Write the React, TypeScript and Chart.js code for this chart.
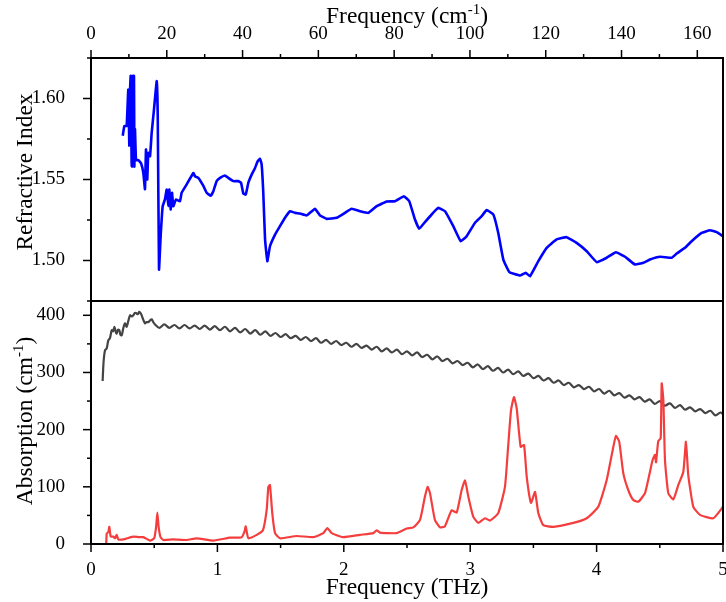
import React, { useEffect, useRef } from "react";
import { Chart, registerables } from "chart.js";

Chart.register(...registerables);

const FONT = "'Liberation Serif', 'Times New Roman', serif";

// axis ranges & ticks
const THZ_TO_CM = 33.356;
const xRange = [0, 5];
const cmRange = [0, 5 * THZ_TO_CM];
const nRange = [1.475, 1.625];
const absRange = [0, 425];

const xTicksTHz = [0, 1, 2, 3, 4, 5];
const xMinorTHz = [0.5, 1.5, 2.5, 3.5, 4.5];
const cmTicks = [0, 20, 40, 60, 80, 100, 120, 140, 160];
const cmMinor = [10, 30, 50, 70, 90, 110, 130, 150];
const nTicks = [1.5, 1.55, 1.6];
const nMinor = [1.475, 1.525, 1.575, 1.625];
const absTicks = [0, 100, 200, 300, 400];
const absMinor = [50, 150, 250, 350];

const titleTop = ["Frequency (cm", "-1", ")"];
const titleBottom = "Frequency (THz)";
const titleN = "Refractive Index";
const titleAbs = ["Absorption (cm", "-1", ")"];

// refractive index [THz, n]
const refractiveIndex = [
  [0.251, 1.577], [0.264, 1.583], [0.282, 1.583], [0.295, 1.6055], [0.303, 1.571], [0.309, 1.605],
  [0.314, 1.614], [0.322, 1.558], [0.33, 1.614], [0.34, 1.614], [0.343, 1.558], [0.348, 1.581],
  [0.356, 1.562], [0.374, 1.562], [0.396, 1.56], [0.414, 1.554], [0.427, 1.544], [0.435, 1.5685],
  [0.445, 1.55], [0.453, 1.5665], [0.467, 1.5644], [0.48, 1.5788], [0.498, 1.593], [0.52, 1.6107],
  [0.528, 1.589], [0.538, 1.4944], [0.551, 1.515], [0.567, 1.5335], [0.585, 1.5377], [0.599, 1.5438],
  [0.612, 1.5335], [0.62, 1.5438], [0.63, 1.5315], [0.641, 1.5418], [0.651, 1.5335], [0.672, 1.5377],
  [0.704, 1.5366], [0.717, 1.5418], [0.757, 1.547], [0.81, 1.554], [0.823, 1.552], [0.849, 1.551],
  [0.889, 1.546], [0.915, 1.5418], [0.947, 1.54], [0.968, 1.5428], [0.994, 1.549], [1.021, 1.551],
  [1.06, 1.5525], [1.086, 1.551], [1.126, 1.549], [1.165, 1.549], [1.187, 1.548], [1.205, 1.5414],
  [1.224, 1.5407], [1.245, 1.548], [1.271, 1.553], [1.297, 1.557], [1.319, 1.5613], [1.337, 1.5628],
  [1.35, 1.5593], [1.363, 1.5418], [1.377, 1.513], [1.395, 1.4996], [1.416, 1.5088], [1.456, 1.516],
  [1.495, 1.5212], [1.535, 1.5264], [1.574, 1.5304], [1.614, 1.5294], [1.653, 1.529], [1.706, 1.5278],
  [1.772, 1.5319], [1.81, 1.528], [1.865, 1.5257], [1.944, 1.5264], [2.009, 1.5294], [2.062, 1.5319],
  [2.128, 1.5304], [2.194, 1.5294], [2.26, 1.5335], [2.339, 1.5364], [2.405, 1.5366], [2.476, 1.5397],
  [2.518, 1.5366], [2.563, 1.5253], [2.597, 1.5196], [2.642, 1.5237], [2.695, 1.5284], [2.748, 1.5325],
  [2.801, 1.5304], [2.866, 1.5212], [2.925, 1.5119], [2.972, 1.515], [3.038, 1.5233], [3.091, 1.5274],
  [3.13, 1.5311], [3.183, 1.5284], [3.222, 1.517], [3.262, 1.5006], [3.31, 1.4928], [3.394, 1.4907],
  [3.439, 1.4924], [3.473, 1.4903], [3.539, 1.4996], [3.605, 1.5078], [3.684, 1.513], [3.763, 1.5144],
  [3.842, 1.5109], [3.922, 1.5057], [4.001, 1.499], [4.08, 1.5017], [4.153, 1.5051], [4.225, 1.5023],
  [4.304, 1.4975], [4.37, 1.4986], [4.422, 1.5006], [4.502, 1.5023], [4.594, 1.5017], [4.634, 1.5043],
  [4.699, 1.5078], [4.752, 1.5119], [4.831, 1.517], [4.897, 1.5187], [4.95, 1.5175], [5.0, 1.515],
];

// absorption of the reference/total (grey) [THz, cm^-1]
const absorptionTotal = [
  [0.092, 285], [0.1, 320], [0.111, 339], [0.124, 342], [0.137, 356], [0.15, 360], [0.164, 374],
  [0.175, 372], [0.185, 380], [0.195, 372], [0.203, 368], [0.214, 375], [0.224, 374], [0.233, 366],
  [0.243, 365], [0.256, 378], [0.269, 386], [0.282, 380], [0.295, 390], [0.309, 400], [0.322, 398],
  [0.335, 400], [0.346, 404], [0.356, 404], [0.37, 402], [0.382, 406], [0.392, 404], [0.401, 400],
  [0.414, 392], [0.427, 386], [0.44, 388], [0.453, 388], [0.467, 391], [0.48, 393], [0.493, 388],
  [0.506, 384], [0.54, 378], [0.58, 384], [0.62, 378], [0.66, 383], [0.7, 377], [0.74, 383],
  [0.78, 377], [0.82, 382], [0.86, 376], [0.9, 382], [0.94, 375], [0.98, 381], [1.02, 374],
  [1.06, 380], [1.1, 372], [1.14, 378], [1.18, 370], [1.22, 376], [1.26, 368], [1.3, 374],
  [1.34, 366], [1.38, 372], [1.42, 364], [1.46, 369], [1.5, 362], [1.54, 367], [1.58, 360],
  [1.62, 364], [1.66, 357], [1.7, 362], [1.74, 355], [1.78, 360], [1.82, 352], [1.86, 357],
  [1.9, 350], [1.94, 355], [1.98, 348], [2.02, 352], [2.06, 345], [2.1, 350], [2.14, 343],
  [2.18, 347], [2.22, 340], [2.26, 345], [2.3, 337], [2.34, 342], [2.38, 335], [2.42, 340],
  [2.46, 332], [2.5, 337], [2.54, 330], [2.58, 335], [2.62, 327], [2.66, 331], [2.7, 323],
  [2.74, 328], [2.78, 320], [2.82, 324], [2.86, 316], [2.9, 320], [2.94, 313], [2.98, 317],
  [3.02, 309], [3.06, 314], [3.1, 306], [3.14, 311], [3.18, 303], [3.22, 308], [3.26, 300],
  [3.3, 305], [3.34, 297], [3.38, 302], [3.42, 294], [3.46, 298], [3.5, 290], [3.54, 294],
  [3.58, 286], [3.62, 290], [3.66, 282], [3.7, 286], [3.74, 278], [3.78, 282], [3.82, 274],
  [3.86, 278], [3.9, 271], [3.94, 275], [3.98, 267], [4.02, 271], [4.06, 263], [4.1, 268],
  [4.14, 260], [4.18, 264], [4.22, 256], [4.26, 260], [4.3, 253], [4.34, 257], [4.38, 249],
  [4.42, 253], [4.46, 245], [4.5, 250], [4.54, 242], [4.58, 246], [4.62, 238], [4.66, 243],
  [4.7, 235], [4.74, 239], [4.78, 232], [4.82, 236], [4.86, 229], [4.9, 233], [4.94, 225],
  [4.98, 230], [5.0, 227],
];

// absorption of the sample (red) [THz, cm^-1]
const absorptionSample = [
  [0.092, 0], [0.119, 0], [0.124, 18], [0.137, 21], [0.145, 30], [0.156, 13], [0.176, 13],
  [0.19, 10], [0.203, 16], [0.216, 8], [0.256, 8], [0.3, 11], [0.335, 13], [0.38, 12],
  [0.414, 12], [0.467, 6], [0.5, 10], [0.515, 30], [0.525, 55], [0.535, 30], [0.55, 12],
  [0.572, 7], [0.651, 8], [0.757, 7], [0.836, 10], [0.968, 6], [1.1, 11], [1.192, 12],
  [1.215, 22], [1.224, 31], [1.235, 18], [1.245, 10], [1.311, 16], [1.36, 24], [1.39, 60],
  [1.403, 100], [1.416, 103], [1.434, 54], [1.456, 19], [1.495, 10], [1.627, 14], [1.759, 12],
  [1.838, 19], [1.87, 28], [1.904, 19], [1.996, 12], [2.128, 16], [2.233, 19], [2.26, 24],
  [2.286, 20], [2.418, 19], [2.498, 27], [2.55, 29], [2.603, 42], [2.642, 83], [2.663, 100],
  [2.682, 89], [2.721, 42], [2.761, 29], [2.8, 31], [2.853, 59], [2.893, 55], [2.932, 94],
  [2.959, 111], [2.985, 83], [3.024, 48], [3.064, 37], [3.117, 45], [3.157, 41], [3.222, 54],
  [3.275, 100], [3.3, 170], [3.323, 234], [3.346, 257], [3.368, 237], [3.399, 170], [3.426, 173],
  [3.447, 118], [3.481, 72], [3.513, 91], [3.539, 54], [3.578, 33], [3.658, 30], [3.816, 37],
  [3.922, 45], [4.013, 65], [4.08, 112], [4.127, 164], [4.153, 189], [4.179, 179], [4.211, 124],
  [4.251, 94], [4.29, 77], [4.33, 74], [4.383, 89], [4.422, 126], [4.443, 147], [4.462, 156],
  [4.47, 143], [4.488, 180], [4.507, 185], [4.515, 281], [4.528, 252], [4.541, 147], [4.567, 89],
  [4.607, 78], [4.646, 103], [4.686, 126], [4.707, 179], [4.725, 121], [4.765, 65], [4.818, 51],
  [4.923, 45], [5.0, 65],
];

const toPts = (arr: number[][]) => arr.map(([x, y]) => ({ x, y }));

const zeroPad = (scale: any) => {
  scale.paddingLeft = 0;
  scale.paddingRight = 0;
  scale.paddingTop = 0;
  scale.paddingBottom = 0;
};

function drawTitle(ctx: CanvasRenderingContext2D, parts: string[], cx: number, cy: number, rot: boolean) {
  const main = `23.5px ${FONT}`;
  const sup = `15px ${FONT}`;
  const widths = parts.map((p, i) => {
    ctx.font = i === 1 ? sup : main;
    return ctx.measureText(p).width;
  });
  const total = widths.reduce((a, b) => a + b, 0);
  ctx.save();
  ctx.translate(cx, cy);
  if (rot) ctx.rotate(-Math.PI / 2);
  ctx.fillStyle = "#000";
  ctx.textBaseline = "alphabetic";
  ctx.textAlign = "left";
  let x = -total / 2;
  parts.forEach((p, i) => {
    ctx.font = i === 1 ? sup : main;
    ctx.fillText(p, x, i === 1 ? -9 : 0);
    x += widths[i];
  });
  ctx.restore();
}

const framePlugin = {
  id: "frame",
  afterDraw(chart: any) {
    const ctx: CanvasRenderingContext2D = chart.ctx;
    const { left, right, top, bottom } = chart.chartArea;
    const s = chart.scales;
    const line = (x1: number, y1: number, x2: number, y2: number) => {
      ctx.beginPath();
      ctx.moveTo(x1, y1);
      ctx.lineTo(x2, y2);
      ctx.stroke();
    };
    ctx.save();
    ctx.strokeStyle = "#000";
    ctx.lineWidth = 1.5;
    xTicksTHz.forEach((v) => { const x = s.x.getPixelForValue(v); line(x, bottom, x, bottom + 8); });
    xMinorTHz.forEach((v) => { const x = s.x.getPixelForValue(v); line(x, bottom, x, bottom + 4); });
    cmTicks.forEach((v) => { const x = s.x2.getPixelForValue(v); line(x, top, x, top - 8); });
    cmMinor.forEach((v) => { const x = s.x2.getPixelForValue(v); line(x, top, x, top - 4); });
    nTicks.forEach((v) => { const y = s.yTop.getPixelForValue(v); line(left, y, left - 8, y); });
    nMinor.forEach((v) => { const y = s.yTop.getPixelForValue(v); line(left, y, left - 4, y); });
    absTicks.forEach((v) => { const y = s.yBot.getPixelForValue(v); line(left, y, left - 8, y); });
    absMinor.forEach((v) => { const y = s.yBot.getPixelForValue(v); line(left, y, left - 4, y); });
    ctx.lineWidth = 2;
    ctx.strokeRect(left, top, right - left, bottom - top);
    const mid = s.yTop.bottom;
    line(left, mid, right, mid);
    ctx.restore();

    const cx = (left + right) / 2;
    drawTitle(ctx, titleTop, cx, 23, false);
    drawTitle(ctx, [titleBottom], cx, 594, false);
    drawTitle(ctx, [titleN], 32, 172, true);
    drawTitle(ctx, titleAbs, 32, 421, true);
  },
};

export default function App() {
  const ref = useRef<HTMLCanvasElement | null>(null);
  useEffect(() => {
    if (!ref.current) return;
    const tickFont = { family: FONT, size: 19 };
    const chart = new Chart(ref.current, {
      type: "line",
      data: {
        datasets: [
          {
            data: toPts(absorptionSample),
            xAxisID: "x",
            yAxisID: "yBot",
            borderColor: "#f43e3e",
            borderWidth: 2.2,
            pointRadius: 0,
            tension: 0.15,
          },
          {
            data: toPts(absorptionTotal),
            xAxisID: "x",
            yAxisID: "yBot",
            borderColor: "#444444",
            borderWidth: 2.2,
            pointRadius: 0,
            tension: 0.3,
          },
          {
            data: toPts(refractiveIndex),
            xAxisID: "x",
            yAxisID: "yTop",
            borderColor: "#0000ff",
            borderWidth: 2.6,
            pointRadius: 0,
            tension: 0.1,
          },
        ],
      },
      options: {
        animation: false,
        responsive: false,
        devicePixelRatio: 1,
        layout: { padding: { left: 0, right: 3, top: 0, bottom: 0 } },
        plugins: { legend: { display: false }, tooltip: { enabled: false } },
        scales: {
          x: {
            type: "linear",
            position: "bottom",
            min: xRange[0],
            max: xRange[1],
            grid: { display: false },
            border: { display: false },
            ticks: { font: tickFont, color: "#000", padding: 7, maxRotation: 0 },
            afterBuildTicks: (sc: any) => { sc.ticks = xTicksTHz.map((value) => ({ value })); },
            afterFit: (sc: any) => { sc.height = 58; zeroPad(sc); },
          },
          x2: {
            type: "linear",
            position: "top",
            min: cmRange[0],
            max: cmRange[1],
            grid: { display: false },
            border: { display: false },
            ticks: { font: tickFont, color: "#000", padding: 5, maxRotation: 0 },
            afterBuildTicks: (sc: any) => { sc.ticks = cmTicks.map((value) => ({ value })); },
            afterFit: (sc: any) => { sc.height = 58; zeroPad(sc); },
          },
          yBot: {
            type: "linear",
            position: "left",
            stack: "panels",
            stackWeight: 1,
            weight: 0,
            min: absRange[0],
            max: absRange[1],
            grid: { display: false },
            border: { display: false },
            ticks: { font: tickFont, color: "#000", padding: 18, callback: (v: any) => String(v) },
            afterBuildTicks: (sc: any) => { sc.ticks = absTicks.map((value) => ({ value })); },
            afterFit: (sc: any) => { sc.width = 91; zeroPad(sc); },
          },
          yTop: {
            type: "linear",
            position: "left",
            stack: "panels",
            stackWeight: 1,
            weight: 1,
            min: nRange[0],
            max: nRange[1],
            grid: { display: false },
            border: { display: false },
            ticks: { font: tickFont, color: "#000", padding: 18, callback: (v: any) => Number(v).toFixed(2) },
            afterBuildTicks: (sc: any) => { sc.ticks = nTicks.map((value) => ({ value })); },
            afterFit: (sc: any) => { sc.width = 91; zeroPad(sc); },
          },
        },
      } as any,
      plugins: [framePlugin],
    });
    return () => chart.destroy();
  }, []);

  return (
    <div style={{ position: "absolute", left: 0, top: 0, width: 726, height: 602, background: "#fff" }}>
      <canvas ref={ref} width={726} height={602} style={{ display: "block" }} />
    </div>
  );
}
